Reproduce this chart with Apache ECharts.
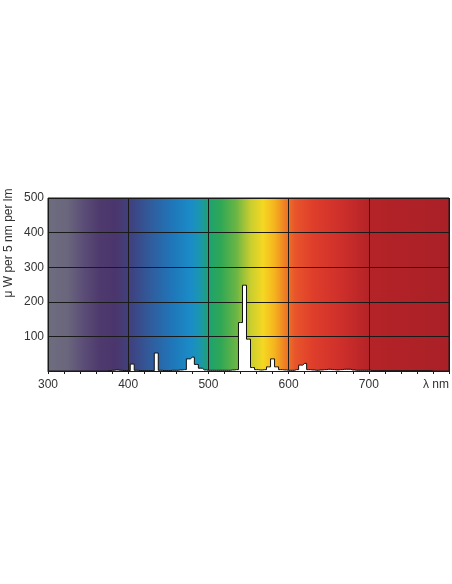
<!DOCTYPE html>
<html>
<head>
<meta charset="utf-8">
<script src="https://cdn.jsdelivr.net/npm/echarts@6/dist/echarts.min.js"></script>
<style>
  html, body { margin: 0; padding: 0; background: #fff; }
  #chart { width: 452px; height: 584px; }
</style>
</head>
<body>
<div id="chart"></div>
<script>
// wavelength (bin centre, nm) and power per 5 nm bin
var wavelengths = [375, 380, 385, 390, 395, 400, 405, 410, 415, 420, 425, 430, 435, 440, 445, 450,
    455, 460, 465, 470, 475, 480, 485, 490, 495, 500, 505, 510, 515, 520, 525, 530,
    535, 540, 545, 550, 555, 560, 565, 570, 575, 580, 585, 590, 595, 600, 605, 610,
    615, 620, 625, 630, 635, 640, 645, 650, 655, 660, 665, 670, 675, 680, 685, 690,
    695, 700, 705, 710, 715, 720, 725, 730, 735, 740, 745, 750, 755, 760, 765, 770,
    775, 780];
var power = [0, 2, 3, 2, 1, 1, 20, 2, 1, 1, 1, 1, 52, 2, 1, 1,
    2, 2, 3, 4, 35, 40, 19, 8, 3, 2, 2, 2, 2, 2, 2, 3,
    4, 140, 248, 92, 10, 4, 3, 4, 12, 35, 12, 4, 3, 2, 2, 4,
    17, 22, 4, 3, 2, 3, 4, 5, 4, 3, 4, 5, 5, 3, 2, 2,
    2, 2, 1, 1, 1, 1, 1, 1, 1, 1, 1, 1, 1, 1, 1, 1,
    1, 0];
var yTicks = [100, 200, 300, 400, 500];

// background spectrum colours (nm, colour)
var spectrum = [
    [300, '#6e6d7f'], [325, '#6a667d'], [345, '#5b4d77'], [365, '#4e3a6d'],
    [385, '#4a366c'], [405, '#3e4381'], [430, '#2f5e9f'], [455, '#1f76b9'],
    [478, '#1a8cc7'], [490, '#1b97ad'], [500, '#1fa172'], [515, '#2ea756'],
    [535, '#6cb544'], [552, '#c6cd30'], [568, '#f5d822'], [583, '#f5b21f'],
    [595, '#ef7f24'], [608, '#e8552b'], [630, '#df3e2b'], [670, '#cb2d2a'],
    [700, '#b42328'], [800, '#a92026']
];

var xMin = 300, xMax = 800;
var stops = [];
for (var i = 0; i < spectrum.length; i++) {
    stops.push({offset: (spectrum[i][0] - xMin) / (xMax - xMin), color: spectrum[i][1]});
}

var seriesData = [];
for (i = 0; i < wavelengths.length; i++) {
    seriesData.push([wavelengths[i], power[i]]);
}

var myChart = echarts.init(document.getElementById('chart'));
var font = "'Liberation Sans', Arial, sans-serif";
var option = {
    animation: false,
    textStyle: {fontFamily: font},
    grid: {
        left: 48,
        right: 2,
        top: 198,
        bottom: 213,
        show: true,
        borderColor: '#1a1a1a',
        borderWidth: 1,
        backgroundColor: new echarts.graphic.LinearGradient(0, 0, 1, 0, stops)
    },
    graphic: [{
        type: 'text',
        x: 9,
        y: 243,
        rotation: Math.PI / 2,
        style: {
            text: 'μ W per 5 nm per lm',
            fontFamily: font,
            fontSize: 12,
            fill: '#333',
            align: 'center',
            verticalAlign: 'middle'
        }
    }],
    xAxis: {
        type: 'value',
        min: xMin,
        max: xMax,
        interval: 100,
        axisLine: {show: true, lineStyle: {color: '#1a1a1a', width: 1}},
        axisTick: {show: true, length: 3, inside: false, lineStyle: {color: '#1a1a1a'}},
        minorTick: {show: true, splitNumber: 5, length: 3, lineStyle: {color: '#1a1a1a'}},
        splitLine: {show: true, lineStyle: {color: '#1a1a1a', width: 1}},
        axisLabel: {
            margin: 8,
            fontSize: 12,
            color: '#333',
            alignMaxLabel: 'right',
            formatter: function (v) {
                return v === xMax ? 'λ nm' : String(v);
            }
        }
    },
    yAxis: {
        type: 'value',
        min: 0,
        max: 500,
        interval: 100,
        axisLine: {show: false},
        axisTick: {show: false},
        splitLine: {show: true, lineStyle: {color: '#1a1a1a', width: 1}},
        axisLabel: {
            margin: 4,
            fontSize: 12,
            color: '#333',
            showMinLabel: false,
            formatter: function (v) {
                return yTicks.indexOf(v) >= 0 ? String(v) : '';
            }
        }
    },
    series: [{
        type: 'line',
        step: 'middle',
        symbol: 'none',
        data: seriesData,
        lineStyle: {color: '#111', width: 1},
        areaStyle: {color: '#ffffff', opacity: 1},
        z: 3
    }]
};
myChart.setOption(option);
</script>
</body>
</html>
